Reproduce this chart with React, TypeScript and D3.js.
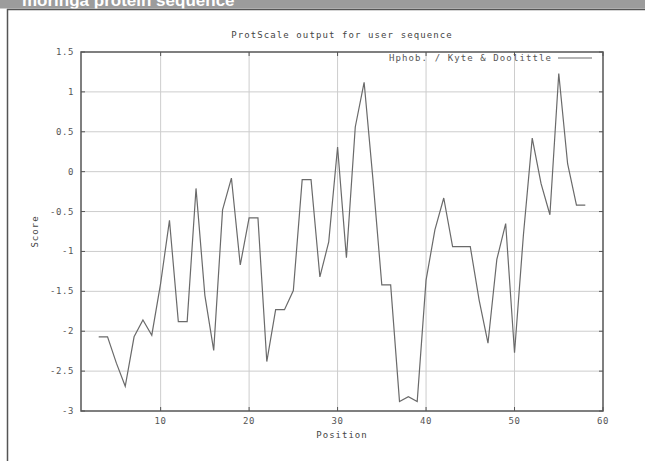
import React, {useEffect, useRef} from "react";
import * as d3 from "d3";

// hydrophobicity profile (window centres)
const positions = [3, 4, 5, 6, 7, 8, 9, 10, 11, 12, 13, 14, 15, 16, 17, 18, 19, 20, 21, 22, 23, 24, 25, 26, 27, 28, 29, 30,
    31, 32, 33, 34, 35, 36, 37, 38, 39, 40, 41, 42, 43, 44, 45, 46, 47, 48, 49, 50, 51, 52, 53, 54, 55, 56, 57, 58];
const scores = [-2.07, -2.07, -2.4, -2.69, -2.07, -1.86, -2.05, -1.4, -0.61, -1.88, -1.88, -0.21, -1.55, -2.24,
    -0.48, -0.08, -1.17, -0.58, -0.58, -2.38, -1.73, -1.73, -1.49, -0.1, -0.1, -1.32, -0.88, 0.31, -1.08, 0.56,
    1.12, -0.1, -1.42, -1.42, -2.88, -2.82, -2.88, -1.36, -0.73, -0.33, -0.94, -0.94, -0.94, -1.61, -2.15, -1.1,
    -0.65, -2.27, -0.8, 0.42, -0.15, -0.54, 1.23, 0.1, -0.42, -0.42];
const xTicks = [10, 20, 30, 40, 50, 60];
const yTicks = [1.5, 1, 0.5, 0, -0.5, -1, -1.5, -2, -2.5, -3];

const pageTitle = "moringa protein sequence";
const chartTitle = "ProtScale output for user sequence";
const seriesName = "Hphob. / Kyte & Doolittle";

const FONT = "'DejaVu Sans Mono', monospace";

export default function App() {
    const ref = useRef<SVGSVGElement>(null);

    useEffect(() => {
        const svg = d3.select(ref.current);
        svg.selectAll("*").remove();

        // page header + frame around the image
        svg.append("rect").attr("x", 0).attr("y", 0).attr("width", 645).attr("height", 8.5).attr("fill", "#9c9c9c");
        svg.append("text")
            .attr("x", 22).attr("y", 5.5)
            .style("font-family", "'Liberation Sans', Arial, sans-serif")
            .style("font-weight", "bold")
            .style("font-size", "17px")
            .attr("fill", "#ffffff")
            .text(pageTitle);
        svg.append("line").attr("x1", 7).attr("x2", 645).attr("y1", 9.5).attr("y2", 9.5)
            .attr("stroke", "#555").attr("stroke-width", 1.5);
        svg.append("line").attr("x1", 7.5).attr("x2", 7.5).attr("y1", 9).attr("y2", 461)
            .attr("stroke", "#555").attr("stroke-width", 1.5);

        const left = 81, right = 603, top = 52, bottom = 411;
        const x = d3.scaleLinear().domain([1, 60]).range([left, right]);
        const y = d3.scaleLinear().domain([-3, 1.5]).range([bottom, top]);

        const g = svg.append("g");

        // grid
        g.selectAll(".gx").data(xTicks.filter(t => t < 60)).enter().append("line")
            .attr("x1", d => x(d)).attr("x2", d => x(d)).attr("y1", top).attr("y2", bottom)
            .attr("stroke", "#cdcdcd").attr("stroke-width", 1);
        g.selectAll(".gy").data(yTicks.filter(t => t > -3 && t < 1.5)).enter().append("line")
            .attr("x1", left).attr("x2", right).attr("y1", d => y(d)).attr("y2", d => y(d))
            .attr("stroke", "#cdcdcd").attr("stroke-width", 1);

        // inward ticks on all four sides
        const tl = 4;
        xTicks.forEach(t => {
            g.append("line").attr("x1", x(t)).attr("x2", x(t)).attr("y1", bottom).attr("y2", bottom - tl).attr("stroke", "#555");
            g.append("line").attr("x1", x(t)).attr("x2", x(t)).attr("y1", top).attr("y2", top + tl).attr("stroke", "#555");
        });
        yTicks.forEach(t => {
            g.append("line").attr("x1", left).attr("x2", left + tl).attr("y1", y(t)).attr("y2", y(t)).attr("stroke", "#555");
            g.append("line").attr("x1", right).attr("x2", right - tl).attr("y1", y(t)).attr("y2", y(t)).attr("stroke", "#555");
        });

        // frame
        g.append("rect").attr("x", left).attr("y", top).attr("width", right - left).attr("height", bottom - top)
            .attr("fill", "none").attr("stroke", "#555").attr("stroke-width", 1.5);

        // tick labels
        g.selectAll(".xl").data(xTicks).enter().append("text")
            .attr("x", d => x(d)).attr("y", 424)
            .attr("text-anchor", "middle")
            .style("font-family", FONT).style("font-size", "9px").style("letter-spacing", "0.6px")
            .attr("fill", "#555")
            .text(d => d);
        g.selectAll(".yl").data(yTicks).enter().append("text")
            .attr("x", 74).attr("y", d => y(d) + 3)
            .attr("text-anchor", "end")
            .style("font-family", FONT).style("font-size", "9px").style("letter-spacing", "0.6px")
            .attr("fill", "#555")
            .text(d => d);

        // axis titles
        g.append("text")
            .attr("x", (left + right) / 2).attr("y", 438).attr("text-anchor", "middle")
            .style("font-family", FONT).style("font-size", "9px").style("letter-spacing", "1px")
            .attr("fill", "#444").text("Position");
        g.append("text")
            .attr("transform", `translate(38, ${(top + bottom) / 2}) rotate(-90)`)
            .attr("text-anchor", "middle")
            .style("font-family", FONT).style("font-size", "9px").style("letter-spacing", "1px")
            .attr("fill", "#444").text("Score");
        g.append("text")
            .attr("x", (left + right) / 2).attr("y", 38).attr("text-anchor", "middle")
            .style("font-family", FONT).style("font-size", "9px").style("letter-spacing", "1.1px")
            .attr("fill", "#444").text(chartTitle);

        // legend
        g.append("text")
            .attr("x", 552).attr("y", 61).attr("text-anchor", "end")
            .style("font-family", FONT).style("font-size", "9px").style("letter-spacing", "1.1px")
            .attr("fill", "#555").text(seriesName);
        g.append("line").attr("x1", 558).attr("x2", 592).attr("y1", 58).attr("y2", 58)
            .attr("stroke", "#6a6a6a").attr("stroke-width", 1.2);

        // the profile
        const line = d3.line<number>()
            .x((d, i) => x(positions[i]))
            .y(d => y(d));
        g.append("path")
            .datum(scores)
            .attr("d", line)
            .attr("fill", "none")
            .attr("stroke", "#6a6a6a")
            .attr("stroke-width", 1.2);
    }, []);

    return (
        <svg ref={ref} width={645} height={461}
             style={{position: "absolute", left: 0, top: 0, background: "#fff", display: "block"}}/>
    );
}
